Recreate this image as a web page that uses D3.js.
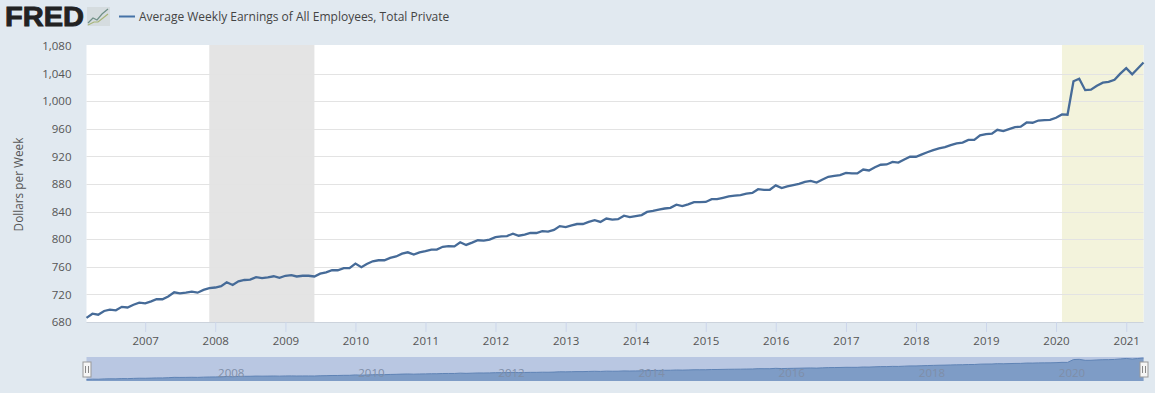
<!DOCTYPE html>
<html>
<head>
<meta charset="utf-8">
<script src="https://cdn.jsdelivr.net/npm/d3@7/dist/d3.min.js"></script>
<style>
html, body { margin: 0; padding: 0; background: #e1e9f0; overflow: hidden; }
text { font-family: "Open Sans", sans-serif; fill: #555; }
.domain { display: none; }
</style>
</head>
<body>
<div class="svg"></div>
<script>
const width = 1155;
const height = 393;
const left = 86.5, right = 1143.5, top_ = 46, bottom = 322;
const navTop = 357, navBottom = 381;

// Monthly earnings, Mar 2006 to Apr 2021
const y2006 = [686, 692, 690.6, 696, 698, 697, 702, 701, 705, 708];
const y2007 = [707, 710, 713, 713, 717, 723, 721.5, 722.5, 724, 722.5, 726.5, 729];
const y2008 = [730, 732, 737.6, 733.7, 739, 740.9, 741.5, 745, 743.6, 744.8, 746.3, 744];
const y2009 = [747, 748, 746, 747, 747, 746, 750, 752, 755, 755, 758, 758];
const y2010 = [764.6, 759.4, 764, 768, 769.5, 769.5, 773, 775, 779, 781, 777.7, 781];
const y2011 = [782.6, 785, 785, 789, 790, 789.6, 795.6, 791.7, 795, 798.5, 798, 799.5];
const y2012 = [803, 804, 804.6, 808, 805, 806.7, 809, 809, 811.6, 811, 813.5, 819];
const y2013 = [817.5, 820, 822, 822, 825, 827.5, 825, 830, 828.5, 829, 834, 832];
const y2014 = [833.5, 835, 839.5, 841, 843, 844.5, 845.5, 850, 848, 850.5, 853.7, 853.7];
const y2015 = [854, 858, 858, 860, 862, 863, 864, 866, 867, 872.5, 871.6, 871.6];
const y2016 = [878, 874, 876.5, 878.5, 880.3, 883, 884.6, 882, 886.5, 890.4, 891.9, 893];
const y2017 = [896, 895.3, 895.3, 901, 899.6, 904.3, 907.9, 908.3, 912, 911, 915.6, 919.5];
const y2018 = [919.5, 923, 926, 929, 931.5, 933.5, 936.4, 939, 940, 944, 944, 950.5];
const y2019 = [952.4, 953, 958.6, 956.7, 959.6, 962.5, 963, 969.2, 968.8, 972, 972.6, 973];
const y2020 = [976, 980.8, 980.4, 1029, 1032.7, 1016, 1016.7, 1022.4, 1026.9, 1027.9, 1031, 1040];
const y2021 = [1048, 1039, 1047, 1056];

const earnings = [].concat(y2006, y2007, y2008, y2009, y2010, y2011, y2012, y2013,
    y2014, y2015, y2016, y2017, y2018, y2019, y2020, y2021);
const months = d3.timeMonth.range(new Date(2006, 2, 1), new Date(2021, 4, 1));
const series = months.map((m, i) => ({date: m, value: earnings[i]}));

const yTicks = [680, 720, 760, 800, 840, 880, 920, 960, 1000, 1040, 1080];
const xTickYears = d3.range(2007, 2022);
const navYears = d3.range(2008, 2022, 2);
const shades = [
    {from: new Date(2007, 11, 1), to: new Date(2009, 5, 1), color: '#e4e4e4'},
    {from: new Date(2020, 1, 1), to: new Date(2021, 3, 1), color: '#f3f3dc'}
];
const legendLabel = 'Average Weekly Earnings of All Employees, Total Private';
const yTitle = 'Dollars per Week';

const x = d3.scaleTime().domain([months[0], months[months.length - 1]]).range([left, right]);
const y = d3.scaleLinear().domain([680, 1080]).range([bottom, top_]);
const navY = d3.scaleLinear().domain([686, 1056]).range([379.5, 358]);

const svg = d3.select(".svg").append("svg").attr("width", width).attr("height", height)
    .style("display", "block");

// plot background and shaded periods, one pixel above the 1,080 line
svg.append("rect").attr("x", left).attr("y", top_ - 1).attr("width", right - left).attr("height", bottom - top_ + 1)
    .style("fill", "#fff");
svg.selectAll("rect.shade").data(shades).join("rect").attr("class", "shade")
    .attr("x", d => x(d.from)).attr("y", top_ - 1)
    .attr("width", d => x(d.to) - x(d.from)).attr("height", bottom - top_ + 1)
    .style("fill", d => d.color);

// gridlines
svg.append("g").selectAll("line").data(yTicks.slice(1, -1)).join("line")
    .attr("x1", left).attr("x2", right)
    .attr("y1", d => Math.round(y(d)) + .5).attr("y2", d => Math.round(y(d)) + .5)
    .style("stroke", "#e3e3e3");
svg.append("line").attr("x1", left).attr("x2", right).attr("y1", bottom + .5).attr("y2", bottom + .5)
    .style("stroke", "#ccd3dc");

// axes
const yAxis = d3.axisLeft(y).tickValues(yTicks).tickSize(0).tickPadding(15).tickFormat(d3.format(","));
svg.append("g").attr("transform", `translate(${left},0)`).call(yAxis)
    .selectAll("text").style("font-size", "11.5px").style("fill", "#555");

const xAxis = d3.axisBottom(x).tickValues(xTickYears.map(d => new Date(d, 0, 1)))
    .tickSize(10).tickPadding(5).tickFormat(d3.timeFormat("%Y"));
const xg = svg.append("g").attr("transform", `translate(0,${bottom})`).call(xAxis);
xg.selectAll("line").style("stroke", "#ccd6eb");
xg.selectAll("text").style("font-size", "11.5px").style("fill", "#555");

svg.append("text").text(yTitle)
    .attr("transform", `translate(23,184.5) rotate(-90)`)
    .attr("text-anchor", "middle").style("font-size", "11.8px");

// series
const line = d3.line().x(d => x(d.date)).y(d => y(d.value));
svg.append("path").datum(series).attr("d", line)
    .style("fill", "none").style("stroke", "#466b98").style("stroke-width", 2.3);

// navigator
svg.append("rect").attr("x", left).attr("y", navTop).attr("width", right - left).attr("height", navBottom - navTop)
    .style("fill", "#b9c7e2");
const navArea = d3.area().x(d => x(d.date)).y0(navBottom).y1(d => navY(d.value));
svg.append("path").datum(series).attr("d", navArea).style("fill", "#7e9cc6");
svg.append("path").datum(series).attr("d", d3.line().x(d => x(d.date)).y(d => navY(d.value)))
    .style("fill", "none").style("stroke", "#5f83b5");
svg.selectAll("text.nav").data(navYears).join("text").attr("class", "nav")
    .attr("x", d => x(new Date(d, 0, 1)) + 16).attr("y", 377)
    .attr("text-anchor", "middle").text(d => d)
    .style("font-size", "11.5px").style("fill", "#7f8ea8");

// navigator handles
const handles = svg.selectAll("g.handle").data([left, right]).join("g").attr("class", "handle")
    .attr("transform", d => `translate(${d},362)`);
handles.append("rect").attr("x", -3.5).attr("y", 0).attr("width", 8).attr("height", 15)
    .style("fill", "#f5f5f5").style("stroke", "#999");
handles.selectAll("line").data([-1, 2]).join("line")
    .attr("x1", d => d).attr("x2", d => d).attr("y1", 4).attr("y2", 11)
    .style("stroke", "#888");

// logo
svg.append("text").text("FRED").attr("x", 5).attr("y", 26)
    .attr("textLength", 79).attr("lengthAdjust", "spacingAndGlyphs")
    .style("font-family", "'Liberation Sans', sans-serif").style("font-weight", 700)
    .style("font-size", "27px").style("fill", "#222").style("stroke", "#222").style("stroke-width", .9);
const logo = svg.append("g").attr("transform", "translate(87,7)");
logo.append("rect").attr("width", 23).attr("height", 19).style("fill", "#d5dcdf");
logo.append("path").attr("d", "M1,16L6,11L10,13L15,7L21,2").style("fill", "none").style("stroke", "#6f8f86").style("stroke-width", 1.2);
logo.append("path").attr("d", "M1,18L7,15L11,15L16,11L21,7").style("fill", "none").style("stroke", "#a8b578").style("stroke-width", 1.2);

// legend
svg.append("line").attr("x1", 119).attr("x2", 135).attr("y1", 16.5).attr("y2", 16.5)
    .style("stroke", "#4572a7").style("stroke-width", 2);
svg.append("text").text(legendLabel).attr("x", 139).attr("y", 21)
    .style("font-size", "12px").style("fill", "#444");
</script>
</body>
</html>
